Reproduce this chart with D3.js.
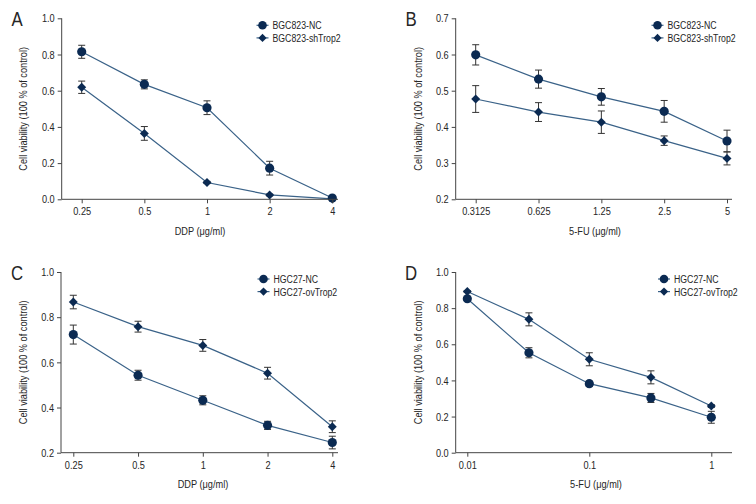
<!DOCTYPE html>
<html><head><meta charset="utf-8">
<script src="https://cdn.jsdelivr.net/npm/d3@7"></script>
<style>
body{margin:0;background:#fff;}
svg text{font-family:"Liberation Sans","Arial",sans-serif;fill:#262626;}
</style></head>
<body><svg id="c" width="756" height="504"></svg>
<script>
// ---- data ----
const ddpDoses = ["0.25","0.5","1","2","4"];
const fuDosesB = ["0.3125","0.625","1.25","2.5","5"];
const fuDosesD = [0.01, 0.032, 0.1, 0.32, 1];

const aNC = [0.815, 0.635, 0.506, 0.172, 0.007];
const aNCerr = [0.036, 0.025, 0.038, 0.038, 0.01];
const aSh = [0.619, 0.364, 0.093, 0.024, 0.002];
const aShErr = [0.034, 0.038, 0.006, 0.005, 0.003];

const bNC = [0.599, 0.532, 0.483, 0.443, 0.361];
const bNCerr = [0.028, 0.025, 0.023, 0.03, 0.03];
const bSh = [0.477, 0.441, 0.413, 0.362, 0.313];
const bShErr = [0.037, 0.026, 0.031, 0.013, 0.018];

const cNC = [0.723, 0.543, 0.432, 0.321, 0.245];
const cNCerr = [0.042, 0.022, 0.02, 0.018, 0.028];
const cOv = [0.867, 0.758, 0.675, 0.552, 0.315];
const cOvErr = [0.03, 0.024, 0.026, 0.026, 0.026];

const dNC = [0.852, 0.553, 0.382, 0.303, 0.196];
const dNCerr = [0.008, 0.028, 0.014, 0.025, 0.033];
const dOv = [0.892, 0.738, 0.517, 0.417, 0.258];
const dOvErr = [0.005, 0.036, 0.036, 0.036, 0.008];

const yTicks01 = [0, 0.2, 0.4, 0.6, 0.8, 1.0];
const yTicksB = [0.2, 0.3, 0.4, 0.5, 0.6, 0.7];
const yTicksC = [0.2, 0.4, 0.6, 0.8, 1.0];
const xTicksD = [0.01, 0.1, 1];

const yTitle = "Cell viability (100 % of control)";

// ---- drawing ----
const svg = d3.select("#c");
const markFill = "#0b2a52", lineCol = "#3a6288", errCol = "#333";
const SX = 0.8, SXL = 0.76, FS = 11.5;

function symPath(shape, big){
  return shape==="circle"
    ? d3.symbol().type(d3.symbolCircle).size(big?66:58)()
    : d3.symbol().type(d3.symbolSquare).size(big?40:34)();
}
function symTransform(shape, x, y){
  return shape==="circle" ? `translate(${x},${y})` : `translate(${x},${y}) rotate(45)`;
}
function txt(parent, x, y, str, anchor, size, rot, sx){
  const g = parent.append("g").attr("transform",`translate(${x},${y})${rot?` rotate(${rot})`:""}`);
  g.append("text").attr("transform",`scale(${sx||SX},1)`).attr("text-anchor",anchor)
    .attr("dy","0.35em").attr("font-size",size).text(str);
  return g;
}

function panel(o){
  const g = svg.append("g");
  const x = o.x, y = o.y;
  const line = d3.line().x(d=>x(d.x)).y(d=>y(d.v));
  o.series.forEach(s=>{
    const pts = o.xs.map((xv,i)=>({x:xv, v:s.vals[i], e:s.err[i]}));
    g.append("path").datum(pts).attr("d", line).attr("fill","none").attr("stroke",lineCol).attr("stroke-width",1.2);
    const eg = g.append("g").attr("stroke",errCol).attr("stroke-width",1);
    pts.forEach(p=>{
      const cx = x(p.x), y1 = y(p.v+p.e), y2 = y(p.v-p.e);
      eg.append("line").attr("x1",cx).attr("x2",cx).attr("y1",y1).attr("y2",y2);
      eg.append("line").attr("x1",cx-3.5).attr("x2",cx+3.5).attr("y1",y1).attr("y2",y1);
      eg.append("line").attr("x1",cx-3.5).attr("x2",cx+3.5).attr("y1",y2).attr("y2",y2);
    });
  });
  o.series.forEach(s=>{
    g.selectAll(null).data(o.xs.map((xv,i)=>({x:xv,v:s.vals[i]}))).join("path")
      .attr("d", symPath(s.shape,true)).attr("transform", d=>symTransform(s.shape,x(d.x),y(d.v))).attr("fill",markFill);
  });
  // axes
  const yAx = g.append("g").attr("transform",`translate(${o.x0},0)`)
    .call(d3.axisLeft(y).tickValues(o.yTicks).tickFormat(d3.format(".1f")).tickSize(4).tickSizeOuter(0));
  const xAx = g.append("g").attr("transform",`translate(0,${o.yb})`)
    .call(d3.axisBottom(x).tickValues(o.xTicks).tickFormat(o.xFmt).tickSize(4).tickSizeOuter(0));
  [yAx,xAx].forEach(a=>{a.selectAll("line").attr("stroke","#444");});
  yAx.selectAll("text").attr("font-size",FS).style("fill","#262626")
    .attr("x",-7/SX).attr("transform",`scale(${SX},1)`);
  xAx.selectAll("text").attr("font-size",FS).style("fill","#262626")
    .attr("y",8).attr("dy","0.71em").attr("transform",`scale(${SX},1)`);
  yAx.select(".domain").attr("d",`M0,${o.yt}V${o.yb}`).attr("stroke","#444");
  xAx.select(".domain").attr("d",`M${o.x0},0H${o.xe}`).attr("stroke","#444");
  // titles
  txt(g, o.yTitleX, (o.yt+o.yb)/2, yTitle, "middle", FS, -90);
  txt(g, o.xTitleX, o.yb+31.5, o.xTitle, "middle", FS);
  txt(g, o.letterX, o.yt+0.5, o.letter, "middle", 21);
  // legend
  o.series.forEach((s,i)=>{
    const ly = o.yt + 7 + i*12.6;
    g.append("line").attr("x1",o.legX).attr("x2",o.legX+12).attr("y1",ly).attr("y2",ly).attr("stroke",lineCol).attr("stroke-width",1.2);
    g.append("path").attr("d", symPath(s.shape,false))
      .attr("transform",symTransform(s.shape,o.legX+6,ly)).attr("fill",markFill);
    txt(g, o.legX+16, ly, s.name, "start", FS, 0, SXL);
  });
}

panel({
  letter:"A", letterX:17, x0:61.7, xe:338, yt:18.3, yb:199.3,
  x: d3.scalePoint().domain(ddpDoses).range([81.7,332.3]),
  y: d3.scaleLinear().domain([0,1]).range([199.3,18.3]),
  xs: ddpDoses, xTicks: ddpDoses, xFmt: d=>d, yTicks: yTicks01,
  yTitleX:23, xTitleX:200, xTitle:"DDP (μg/ml)", legX:256.5,
  series:[{name:"BGC823-NC",shape:"circle",vals:aNC,err:aNCerr},{name:"BGC823-shTrop2",shape:"diamond",vals:aSh,err:aShErr}]
});
panel({
  letter:"B", letterX:411, x0:455.7, xe:732, yt:18.3, yb:199.3,
  x: d3.scalePoint().domain(fuDosesB).range([475.7,727]),
  y: d3.scaleLinear().domain([0.2,0.7]).range([199.3,18.3]),
  xs: fuDosesB, xTicks: fuDosesB, xFmt: d=>d, yTicks: yTicksB,
  yTitleX:417.5, xTitleX:595, xTitle:"5-FU (μg/ml)", legX:651.5,
  series:[{name:"BGC823-NC",shape:"circle",vals:bNC,err:bNCerr},{name:"BGC823-shTrop2",shape:"diamond",vals:bSh,err:bShErr}]
});
panel({
  letter:"C", letterX:17, x0:61, xe:338, yt:272, yb:452.7,
  x: d3.scalePoint().domain(ddpDoses).range([73.3,332.3]),
  y: d3.scaleLinear().domain([0.2,1]).range([452.7,272]),
  xs: ddpDoses, xTicks: ddpDoses, xFmt: d=>d, yTicks: yTicksC,
  yTitleX:23, xTitleX:203, xTitle:"DDP (μg/ml)", legX:257.5,
  series:[{name:"HGC27-NC",shape:"circle",vals:cNC,err:cNCerr},{name:"HGC27-ovTrop2",shape:"diamond",vals:cOv,err:cOvErr}]
});
panel({
  letter:"D", letterX:411, x0:455.7, xe:732, yt:272, yb:452.7,
  x: d3.scaleLog().domain([0.01,1]).range([467.3,711.3]),
  y: d3.scaleLinear().domain([0,1]).range([452.7,272]),
  xs: fuDosesD, xTicks: xTicksD, xFmt: d=>String(d), yTicks: yTicks01,
  yTitleX:417.5, xTitleX:596, xTitle:"5-FU (μg/ml)", legX:658,
  series:[{name:"HGC27-NC",shape:"circle",vals:dNC,err:dNCerr},{name:"HGC27-ovTrop2",shape:"diamond",vals:dOv,err:dOvErr}]
});
</script></body></html>
